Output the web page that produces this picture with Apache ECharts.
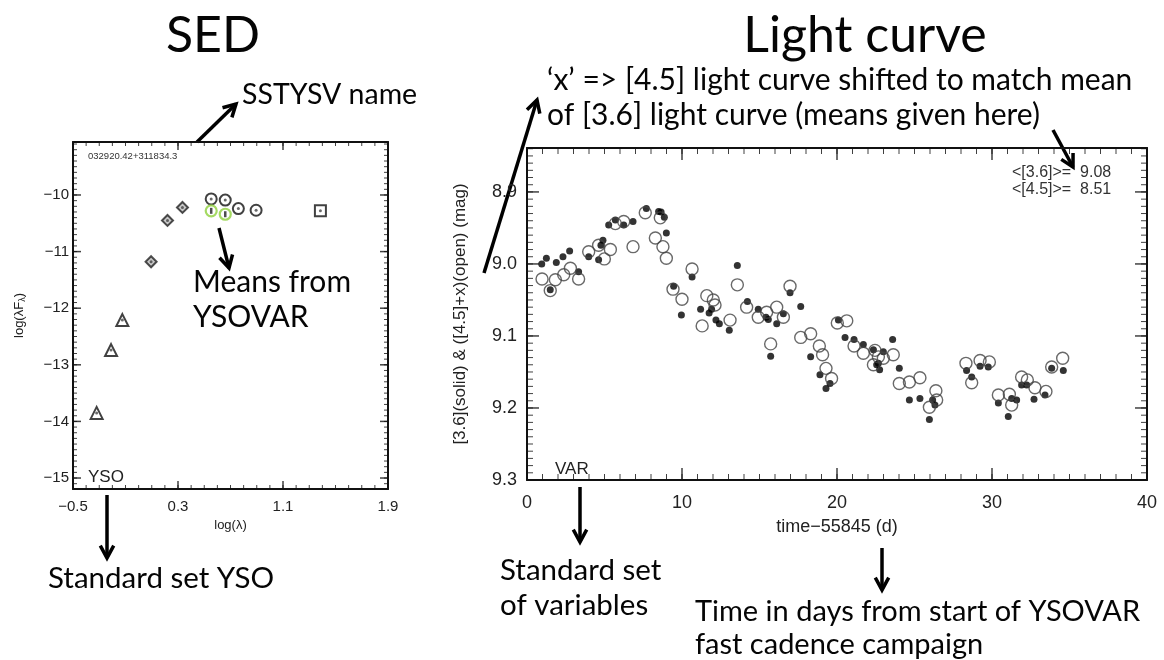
<!DOCTYPE html>
<html>
<head>
<meta charset="utf-8">
<title>SED and light curve</title>
<script src="https://cdn.jsdelivr.net/npm/echarts@6/dist/echarts.min.js"></script>
<style>
  html, body { margin: 0; padding: 0; background: #fff; }
  #main { width: 1164px; height: 660px; }
</style>
</head>
<body>
<div id="main"></div>
<script>
// SED: log(lambda / micron) vs log(lambda F_lambda)
const sedOptLam = [-0.32, -0.21, -0.124];
const sedOptFlux = [-13.85, -12.74, -12.21];
const sedNirLam = [0.095, 0.22, 0.334];
const sedNirFlux = [-11.18, -10.45, -10.22];
const sedIracLam = [0.553, 0.66, 0.76, 0.895];
const sedIracFlux = [-10.07, -10.09, -10.24, -10.27];
const sedMipsLam = [1.385];
const sedMipsFlux = [-10.28];
const sedMeanLam = [0.553, 0.66];
const sedMeanFlux = [-10.28, -10.34];

// light curve: [3.6] (filled) and [4.5]+x (open)
const lcDay36 = [0.95, 1.25, 1.5, 1.89, 2.32, 2.75, 3.33, 3.98, 4.62, 4.77, 4.9, 5.27, 5.7, 6.24, 6.84, 7.7, 8.49, 8.65, 8.86, 8.99,
  9.46, 9.96, 10.65, 11.2, 11.75, 11.91, 12.19, 12.41, 13.05, 13.57, 14.22, 14.92, 15.42, 15.57, 15.72, 16.11, 16.54, 16.97, 17.66, 18.3,
  18.9, 19.29, 19.55, 20.09, 20.52, 21.1, 21.7, 22.35, 22.56, 22.67, 22.75, 22.99, 23.59, 24.02, 24.67, 25.35, 25.96, 26.17, 26.32, 28.36,
  28.69, 29.23, 29.76, 30.41, 31.05, 31.27, 31.59, 31.91, 32.24, 32.71, 33.42, 33.85, 34.6];
const lcMag36 = [9.0, 8.992, 9.036, 8.998, 8.99, 8.982, 9.011, 8.99, 8.994, 8.974, 8.967, 8.946, 8.939, 8.946, 8.941, 8.923, 8.927, 8.928, 8.935, 8.957,
  9.031, 9.071, 9.018, 9.063, 9.068, 9.063, 9.078, 9.083, 9.092, 9.002, 9.052, 9.063, 9.074, 9.077, 9.128, 9.083, 9.069, 9.04, 9.059, 9.129,
  9.154, 9.173, 9.166, 9.078, 9.102, 9.105, 9.112, 9.119, 9.14, 9.138, 9.147, 9.122, 9.105, 9.145, 9.189, 9.187, 9.216, 9.189, 9.196, 9.148,
  9.157, 9.142, 9.143, 9.193, 9.212, 9.187, 9.189, 9.168, 9.168, 9.188, 9.182, 9.145, 9.148];
const lcDay45 = [0.97, 1.5, 1.83, 2.37, 2.8, 3.33, 3.98, 4.62, 4.99, 5.38, 5.7, 6.24, 6.84, 7.63, 8.28, 8.6, 8.77, 8.99, 9.42, 10.0,
  10.65, 11.3, 11.6, 12.02, 12.13, 13.1, 13.57, 14.17, 14.92, 15.46, 15.72, 16.11, 16.54, 16.97, 17.66, 18.3, 18.86, 19.07, 19.29, 19.65,
  20.02, 20.63, 21.1, 21.7, 22.35, 22.45, 22.67, 22.99, 23.63, 24.02, 24.67, 25.35, 25.96, 26.38, 26.43, 28.32, 28.69, 29.23, 29.83, 30.41,
  31.12, 31.27, 31.91, 32.28, 32.77, 33.48, 33.85, 34.56];
const lcMag45 = [9.021, 9.037, 9.022, 9.015, 9.006, 9.021, 8.983, 8.974, 8.993, 8.98, 8.944, 8.941, 8.976, 8.929, 8.964, 8.936, 8.976, 8.992, 9.035, 9.049,
  9.007, 9.086, 9.044, 9.05, 9.057, 9.078, 9.029, 9.06, 9.074, 9.067, 9.111, 9.06, 9.074, 9.031, 9.102, 9.097, 9.114, 9.126, 9.145, 9.159,
  9.082, 9.079, 9.114, 9.124, 9.14, 9.12, 9.129, 9.131, 9.126, 9.166, 9.164, 9.158, 9.199, 9.176, 9.189, 9.138, 9.165, 9.134, 9.136, 9.182,
  9.181, 9.196, 9.157, 9.161, 9.172, 9.177, 9.143, 9.131];

// tick labels
const sedXLabels = [-0.5, 0.3, 1.1, 1.9];
const sedYLabels = [-15, -14, -13, -12, -11, -10];
const lcXLabels = [0, 10, 20, 30, 40];
const lcYLabels = [8.9, 9.0, 9.1, 9.2, 9.3];

const plotFont = 'Liberation Sans';
const noteFont = 'Lato';
const pairs = (xs, ys) => xs.map((x, i) => [x, ys[i]]);
const minus = (v) => String(v).replace('-', '\u2212');

function steps(a, b, s) {
  const out = [];
  for (let v = a; v <= b + 1e-9; v += s) out.push(Math.round(v * 1000) / 1000);
  return out;
}

// labelled axis plus a mirrored one on the other side (the box)
function boxAxes(dim, grid, min, max, labels, opts) {
  const base = { type: 'value', gridIndex: grid, min: min, max: max, inverse: !!opts.inverse,
    splitLine: { show: false }, axisTick: { show: false },
    axisLine: { show: true, onZero: false, lineStyle: { color: '#111', width: 2 } } };
  return [
    Object.assign({}, base, {
      position: dim === 'x' ? 'bottom' : 'left',
      axisLabel: { customValues: labels, margin: opts.margin, formatter: opts.fmt, fontFamily: plotFont, fontSize: opts.size, color: '#222' },
      name: opts.name, nameLocation: 'middle', nameGap: opts.gap,
      nameTextStyle: { fontFamily: plotFont, fontSize: opts.nameSize, color: '#222', rich: opts.rich }
    }),
    Object.assign({}, base, { position: dim === 'x' ? 'top' : 'right', axisLabel: { show: false } })
  ];
}

// inward IDL-style ticks: thin rect symbols sitting on the box edges, shifted inside
function tickMarks(axisIndex, dim, values, edge, len, width, inward) {
  const isX = dim === 'x';
  return {
    type: 'scatter', xAxisIndex: axisIndex, yAxisIndex: axisIndex, silent: true, clip: false, z: 4,
    symbol: 'rect',
    symbolSize: isX ? [width, len] : [len, width],
    symbolOffset: isX ? [0, inward * len / 2] : [inward * len / 2, 0],
    itemStyle: { color: '#111' },
    data: values.map((v) => (isX ? [v, edge] : [edge, v]))
  };
}

function boxTicks(axisIndex, xMajor, xMinor, yMajor, yMinor, bounds, len) {
  const out = [];
  [[xMajor, len[0], 1.5], [xMinor, len[1], 1]].forEach(function (t) {
    out.push(tickMarks(axisIndex, 'x', t[0], bounds.bottom, t[1], t[2], -1));
    out.push(tickMarks(axisIndex, 'x', t[0], bounds.top, t[1], t[2], 1));
  });
  [[yMajor, len[0], 1.5], [yMinor, len[1], 1]].forEach(function (t) {
    out.push(tickMarks(axisIndex, 'y', t[0], bounds.left, t[1], t[2], 1));
    out.push(tickMarks(axisIndex, 'y', t[0], bounds.right, t[1], t[2], -1));
  });
  return out;
}

function arrow(x1, y1, x2, y2) {
  const a = Math.atan2(y2 - y1, x2 - x1), h = 14, w = 0.5;
  return {
    type: 'group', silent: true, children: [
      { type: 'line', shape: { x1: x1, y1: y1, x2: x2, y2: y2 }, style: { stroke: '#000', lineWidth: 3.5 } },
      { type: 'polyline', shape: { points: [
        [x2 - h * Math.cos(a - w), y2 - h * Math.sin(a - w)], [x2, y2], [x2 - h * Math.cos(a + w), y2 - h * Math.sin(a + w)]
      ] }, style: { stroke: '#000', lineWidth: 3.5, fill: 'none' } }
    ]
  };
}

function note(text, x, y, size, extra) {
  return {
    type: 'text', x: x, y: y, silent: true,
    style: Object.assign({ text: text, fontSize: size, fontFamily: noteFont, fill: '#050505', align: 'left', verticalAlign: 'middle' }, extra || {})
  };
}

const chart = echarts.init(document.getElementById('main'));

const xAxes = [].concat(
  boxAxes('x', 0, -0.5, 1.9, sedXLabels, { fmt: minus, size: 15, margin: 10, name: 'log(\u03bb)', gap: 30, nameSize: 13 }),
  boxAxes('x', 1, 0, 40, lcXLabels, { fmt: (v) => String(v), size: 18, margin: 14, name: 'time\u221255845 (d)', gap: 38, nameSize: 18 })
);
const yAxes = [].concat(
  boxAxes('y', 0, -15.194, -9.064, sedYLabels,
    { fmt: minus, size: 15, margin: 4, name: 'log(\u03bbF{s|\u03bb})', gap: 46, nameSize: 13,
      rich: { s: { fontSize: 9, fontFamily: plotFont, color: '#222', padding: [7, 0, 0, 0] } } }),
  boxAxes('y', 1, 8.839, 9.3, lcYLabels,
    { fmt: (v) => Number(v).toFixed(1), size: 18, margin: 10, inverse: true,
      name: '[3.6](solid) & ([4.5]+x)(open) (mag)', gap: 58, nameSize: 17 })
);

const sedMark = { color: 'transparent', borderColor: '#111', borderWidth: 2 };

const tickSeries = [].concat(
  boxTicks(0, sedXLabels, steps(-0.4, 1.8, 0.1), sedYLabels, steps(-15.1, -9.1, 0.1),
    { bottom: -15.194, top: -9.064, left: -0.5, right: 1.9 }, [8, 4]),
  boxTicks(2, lcXLabels, steps(1, 39, 1), lcYLabels, steps(8.84, 9.29, 0.01),
    { bottom: 9.3, top: 8.839, left: 0, right: 40 }, [12, 6])
);

chart.setOption({
  animation: false,
  grid: [
    { left: 73, top: 142, width: 315, height: 347 },
    { left: 527, top: 148, width: 620, height: 332 }
  ],
  xAxis: xAxes,
  yAxis: yAxes,
  series: tickSeries.concat([
    { type: 'scatter', xAxisIndex: 0, yAxisIndex: 0, symbol: 'triangle', symbolSize: 12, itemStyle: sedMark, data: pairs(sedOptLam, sedOptFlux) },
    { type: 'scatter', xAxisIndex: 0, yAxisIndex: 0, symbol: 'diamond', symbolSize: 11,
      itemStyle: { color: '#bbb', borderColor: '#222', borderWidth: 2 }, data: pairs(sedNirLam, sedNirFlux) },
    { type: 'scatter', xAxisIndex: 0, yAxisIndex: 0, symbol: 'circle', symbolSize: 11, itemStyle: sedMark, data: pairs(sedIracLam, sedIracFlux) },
    { type: 'scatter', xAxisIndex: 0, yAxisIndex: 0, symbol: 'rect', symbolSize: 11, itemStyle: sedMark, data: pairs(sedMipsLam, sedMipsFlux) },
    { type: 'scatter', xAxisIndex: 0, yAxisIndex: 0, symbol: 'circle', symbolSize: 11,
      itemStyle: { color: 'transparent', borderColor: '#8fd13c', borderWidth: 2.2 }, data: pairs(sedMeanLam, sedMeanFlux) },
    // central dots of the SED symbols
    { type: 'scatter', xAxisIndex: 0, yAxisIndex: 0, symbol: 'circle', symbolSize: 3, itemStyle: { color: '#444' },
      data: [].concat(pairs(sedOptLam, sedOptFlux), pairs(sedNirLam, sedNirFlux), pairs(sedIracLam, sedIracFlux), pairs(sedMipsLam, sedMipsFlux)) },
    { type: 'scatter', xAxisIndex: 0, yAxisIndex: 0, symbol: 'rect', symbolSize: [2.5, 6], itemStyle: { color: '#222' },
      data: pairs(sedMeanLam, sedMeanFlux) },
    { type: 'scatter', xAxisIndex: 2, yAxisIndex: 2, symbol: 'circle', symbolSize: 7, itemStyle: { color: '#000' },
      data: pairs(lcDay36, lcMag36) },
    { type: 'scatter', xAxisIndex: 2, yAxisIndex: 2, symbol: 'circle', symbolSize: 12,
      itemStyle: { color: 'transparent', borderColor: '#444', borderWidth: 1.4 }, data: pairs(lcDay45, lcMag45) }
  ])
});

// annotations and arrows
chart.setOption({
  graphic: [
    note('SED', 213, 36, 50, { align: 'center' }),
    note('Light curve', 865, 36, 50, { align: 'center' }),
    note('SSTYSV name', 242, 95, 28.5),
    note('\u2018x\u2019 => [4.5] light curve shifted to match mean', 547, 80, 30),
    note('of [3.6] light curve (means given here)', 547, 115, 30),
    note('Means from', 193, 282, 30),
    note('YSOVAR', 193, 317, 30),
    note('Standard set YSO', 48, 578, 29.5),
    note('Standard set', 500, 570, 29.5),
    note('of variables', 500, 605, 29.5),
    note('Time in days from start of YSOVAR', 695, 612, 29),
    note('fast cadence campaign', 695, 645, 29),
    note('032920.42+311834.3', 88, 156, 9.5, { fontFamily: plotFont, fill: '#333' }),
    note('YSO', 88, 477, 17, { fontFamily: plotFont, fill: '#222' }),
    note('VAR', 555, 469, 17, { fontFamily: plotFont, fill: '#222' }),
    note('<[3.6]>=  9.08', 1012, 173, 16, { fontFamily: plotFont, fill: '#333' }),
    note('<[4.5]>=  8.51', 1012, 190, 16, { fontFamily: plotFont, fill: '#333' }),
    arrow(197, 142, 236, 104),
    arrow(484, 273, 537, 100),
    arrow(219, 228, 229, 268),
    arrow(107, 495, 107, 558),
    arrow(580, 487, 580, 542),
    arrow(882, 548, 882, 590),
    arrow(1053, 130, 1073, 167)
  ]
});
</script>
</body>
</html>
